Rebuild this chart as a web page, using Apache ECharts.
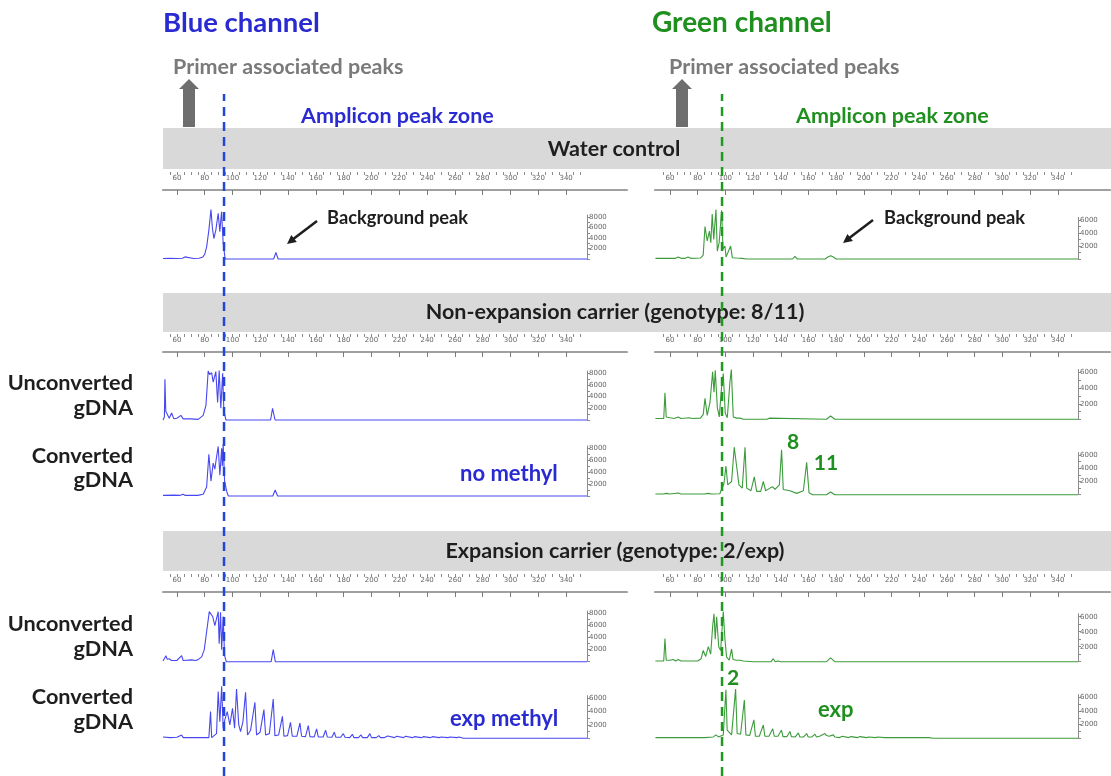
<!DOCTYPE html>
<html><head><meta charset="utf-8">
<script src="https://cdn.jsdelivr.net/npm/echarts@6/dist/echarts.min.js"></script>
<style>html,body{margin:0;padding:0;background:#fff}#c{width:1111px;height:776px}</style>
</head><body><div id="c"></div>
<script>
// ---------- tick labels ----------
const rulerMajorTicks = [60,80,100,120,140,160,180,200,220,240,260,280,300,320,340];
const rulerMinorTicks = [55,60,65,70,75,80,85,90,95,100,105,110,115,120,125,130,135,140,145,150,155,160,165,170,175,180,185,190,195,200,205,210,215,220,225,230,235,240,245,250,255,260,265,270,275,280,285,290,295,300,305,310,315,320,325,330,335,340,345,350];
const rfuLabels8000 = [2000,4000,6000,8000];
const rfuLabels6000 = [2000,4000,6000];
const rfuTicks = [0,1000,2000,3000,4000,5000,6000,7000,8000];

// ---------- channel cut-offs (bp) ----------
const blueCutoff = 93.9;
const greenCutoff = 97.6;

// ---------- traces: [size (bp), signal (RFU)] ----------
const blueWater = [[50,100],[55,150],[60,100],[64,150],[65.8,400],[67,150],[72,100],[76,150],[78.7,400],[80,900],[81.4,2300],[83,5500],[84.5,9400],[85.5,6000],[86.6,3900],[88,5500],[89.7,8700],[90.9,5200],[92.1,9000],[93.3,3000],[94.7,0],[100,0],[129.6,0],[131.2,1270],[132.8,0],[355,0]];
const greenWater = [[49.5,100],[60,100],[64,100],[66,300],[68,100],[71,100],[73,300],[75,100],[82,150],[84,600],[85.3,5000],[86.9,2800],[88.5,4300],[89.5,2500],[90.5,6900],[91.6,3000],[93.2,7600],[94.2,1200],[95.5,2500],[97.3,7500],[98.3,1500],[99.7,2000],[100.5,300],[101.4,300],[103.8,2000],[105,200],[108,150],[112,100],[115,0],[148.5,0],[150.2,400],[152,0],[172,0],[174,300],[176,500],[178,300],[180,0],[354.6,0]];

const blueNonExpUnconv = [[50,0],[51,500],[51.4,7000],[52,1500],[53,1200],[54.5,300],[56.2,1200],[57.8,200],[60,300],[62.9,800],[64.5,200],[70,200],[75.3,100],[78.9,800],[80.9,2500],[82.5,8400],[83.5,7800],[85,8100],[86.1,6500],[88,8300],[89.3,3000],[90.4,8500],[91.6,2000],[92.9,8000],[93.8,1500],[95.3,0],[127.4,0],[128.8,2000],[130.6,0],[355,0]];
const blueNonExpConv = [[50,100],[58,150],[62,100],[64.5,300],[66,100],[75,100],[78.9,300],[81.4,1500],[83,7000],[84.5,2500],[86.1,5500],[87.3,4500],[88.5,6500],[89.7,8300],[90.9,3500],[92.2,8000],[92.7,5000],[93.3,8700],[94.3,2500],[95.8,800],[97,0],[129,0],[130.7,1000],[132.4,0],[355,0]];
const greenNonExpUnconv = [[49.5,100],[55.5,100],[56.4,3400],[57.3,300],[60,200],[63,100],[66,300],[68,100],[74,200],[76,100],[82,150],[84,600],[85.3,2700],[86.9,500],[88.9,2200],[90.8,6100],[91.8,3500],[92.7,6300],[94.2,1500],[95.6,300],[97.3,4200],[98.5,5900],[99.9,800],[101.4,200],[103.3,4800],[104.3,6400],[105.7,300],[108,150],[110.5,150],[113,0],[130,0],[131.7,150],[133,0],[173,0],[176,430],[179,0],[354.6,0]];
const greenNonExpConv = [[49.5,100],[55,100],[57.6,200],[60,100],[66,250],[68,100],[85,100],[87.7,200],[90,100],[96,150],[97.3,300],[99,1700],[100.4,4350],[101.7,1500],[103,1300],[104.5,2000],[106.4,7200],[108.2,4200],[109.8,1500],[112.2,1000],[114.2,7200],[115.4,1000],[118.5,600],[120.9,2700],[122.6,500],[125.5,500],[127.4,2000],[129.1,600],[132.2,1000],[134.2,1200],[135.8,800],[139,1500],[140.6,6800],[141.8,800],[146.6,600],[151.5,200],[156.3,600],[158.7,4900],[160.4,300],[163,0],[173,0],[176,400],[179,0],[354.6,0]];

const blueExpUnconv = [[50,100],[52.1,1000],[53,400],[54.5,500],[56,200],[60,200],[63.4,1000],[64.5,200],[70.6,300],[73,200],[75,300],[77.8,800],[79.7,2000],[81.4,5000],[83.3,8300],[85.7,7500],[87.3,6000],[89.7,8300],[90.4,3000],[91.4,8200],[92.2,2000],[93.3,7500],[94.3,1000],[95.5,0],[127.8,0],[129.3,2000],[130.8,0],[355,0]];
const blueExpConv = [[50,200],[55,100],[60,150],[63.4,500],[64.5,100],[75,100],[83,100],[84.2,4000],[85,100],[88.5,700],[89.7,7000],[90.9,2500],[92.2,7800],[93.3,1500],[94.5,2800],[96.2,4000],[98.1,2000],[100,4500],[101.5,1500],[102.9,7400],[104.5,2000],[105.8,1000],[107.5,2500],[109.4,6900],[110.8,500],[113,1200],[116.1,5400],[117.3,500],[119.8,900],[122.6,4300],[123.8,500],[126.5,700],[129.3,5900],[130.5,400],[133.2,500],[135.9,3300],[137,300],[139.6,400],[141.7,2400],[143,300],[146.3,300],[148.5,2300],[149.7,300],[152.5,250],[154.5,1900],[155.7,250],[158.8,200],[160.5,1400],[161.7,200],[165.2,200],[167,1200],[168.2,200],[171.5,150],[173.2,900],[174.4,150],[177.8,150],[179.7,700],[180.9,150],[184.3,100],[186.2,600],[187.4,100],[190.6,100],[192.4,500],[193.6,100],[197,100],[198.8,700],[200,100],[203.4,100],[205.3,400],[206.5,100],[209,100],[211.7,350],[212.8,100],[216.5,100],[218.1,300],[219.2,100],[223,100],[224.5,300],[225.6,100],[229.3,100],[230.9,250],[232,100],[235.7,100],[237.3,250],[238.4,100],[242.2,100],[243.8,250],[244.9,100],[248.6,100],[250.2,200],[251.3,100],[255,100],[256.6,200],[257.7,100],[261.4,100],[263,200],[264.1,50],[266,0],[355,0]];
const greenExpUnconv = [[49.5,100],[55.5,100],[56.4,3100],[57.3,200],[60,200],[62.4,300],[64,100],[66,300],[68,100],[73,100],[80,100],[82.5,400],[84,1500],[85.8,700],[87.7,2000],[89.4,1000],[90.8,4700],[91.8,6400],[92.7,3000],[93.7,6000],[95.2,2000],[96.6,1500],[98.5,6700],[99.7,3000],[100.9,600],[102.8,200],[104.5,1700],[105.5,300],[108,200],[110.5,200],[113,100],[120,0],[133,0],[134.6,400],[136,0],[138,100],[140,0],[173,0],[176,500],[179,0],[354.6,0]];
const greenExpConv = [[49.5,100],[55,100],[60,100],[66,100],[70,100],[85,100],[91.3,200],[93.2,500],[95,200],[98.5,500],[100.4,7100],[101.3,1200],[102.1,1000],[104.5,500],[107.4,7200],[108.5,700],[111,600],[113.7,5600],[114.8,500],[117.5,400],[120.6,2700],[121.7,300],[124.5,300],[127.4,1950],[128.5,300],[131.5,300],[134.2,1400],[135.3,300],[138,300],[140.5,1200],[141.6,250],[144.5,250],[146.6,1000],[147.7,250],[150.5,200],[152.7,800],[153.8,200],[156.5,200],[158.7,700],[159.8,200],[162.5,200],[164.7,600],[165.8,200],[168,300],[171.9,700],[173,400],[175,300],[177.9,500],[179,200],[182.5,100],[184.5,300],[185.6,100],[189,100],[190.7,250],[191.8,100],[195.5,100],[197.2,250],[198.3,100],[202,100],[203.6,200],[204.7,100],[208.5,100],[210,200],[211.1,100],[215,100],[216.4,200],[217.5,100],[221.5,100],[222.9,150],[224,100],[228,100],[229.2,150],[230.3,100],[234.5,100],[235.6,150],[236.7,100],[241,100],[242.1,150],[243.2,100],[247,100],[248.4,100],[250,0],[354.6,0]];

// ---------- layout ----------
const FONT = 'Lato';
const BLUE_TRACE = '#4848f0', GREEN_TRACE = '#3c9c3c';
const BLUE_TEXT = '#2a2ad2', GREEN_TEXT = '#1f8f1f';
const panels = {
  left:  {left:163, traceWidth:424, rulerWidth:464, min:50,   traceMax:355,   rulerMax:383.8},
  right: {left:655, traceWidth:423, rulerWidth:455, min:49.2, traceMax:354.6, rulerMax:377.7}
};
const plain = v => String(v);

const grids = [], xAxes = [], yAxes = [], series = [];

function addRuler(p, top) {
  const gi = grids.length;
  grids.push({left:p.left, top:top, width:p.rulerWidth, height:18});
  const base = {gridIndex:gi, type:'value', min:p.min, max:p.rulerMax, splitLine:{show:false}};
  xAxes.push(Object.assign({}, base, {position:'top',
    axisLine:{show:true, lineStyle:{color:'#8a8a8a', width:1}},
    axisTick:{show:true, inside:true, length:5, customValues:rulerMajorTicks, lineStyle:{color:'#7a7a7a'}},
    axisLabel:{show:true, inside:true, customValues:rulerMajorTicks, formatter:plain, fontSize:7, color:'#666', margin:3, fontFamily:'DejaVu Sans'}}));
  xAxes.push(Object.assign({}, base, {position:'top',
    axisLine:{show:false},
    axisTick:{show:true, inside:true, length:3, customValues:rulerMinorTicks, lineStyle:{color:'#8a8a8a'}},
    axisLabel:{show:false}}));
  xAxes.push(Object.assign({}, base, {position:'bottom',
    axisLine:{show:true, lineStyle:{color:'#a0a0a0', width:2}},
    axisTick:{show:false}, axisLabel:{show:false}}));
  yAxes.push({gridIndex:gi, type:'value', min:0, max:1, show:false});
}

function addTrace(p, baseline, pxPer1000, yMax, labels, data, color) {
  const gi = grids.length;
  const h = yMax * pxPer1000 / 1000;
  grids.push({left:p.left, top:baseline - h, width:p.traceWidth, height:h});
  xAxes.push({gridIndex:gi, type:'value', min:p.min, max:p.traceMax, show:false});
  yAxes.push({gridIndex:gi, type:'value', min:0, max:yMax, position:'right',
    axisLine:{show:true, lineStyle:{color:'#8a8a8a', width:1}},
    axisTick:{show:true, length:3, customValues:rfuTicks.filter(v => v <= yMax), lineStyle:{color:'#8a8a8a'}},
    axisLabel:{show:true, customValues:labels, formatter:plain, fontSize:7, color:'#666', margin:2, fontFamily:'DejaVu Sans'},
    splitLine:{show:false}});
  series.push({type:'line', xAxisIndex:xAxes.length - 1, yAxisIndex:yAxes.length - 1,
    data:data, symbol:'none', showSymbol:false, clip:false, animation:false, z:3,
    lineStyle:{color:color, width:1.1}});
}

function addCutoff(p, cut, color) {
  const gi = grids.length;
  grids.push({left:p.left, top:94, width:p.traceWidth, bottom:0});
  xAxes.push({gridIndex:gi, type:'value', min:p.min, max:p.traceMax, show:false});
  yAxes.push({gridIndex:gi, type:'value', min:0, max:1, show:false});
  series.push({type:'line', xAxisIndex:xAxes.length - 1, yAxisIndex:yAxes.length - 1,
    data:[[cut,0],[cut,1]], symbol:'none', showSymbol:false, animation:false, z:10, silent:true,
    lineStyle:{color:color, width:2.5, type:[9,6]}});
}

// Water control
addRuler(panels.left, 172);
addRuler(panels.right, 172);
addTrace(panels.left, 259, 5.25, 8400, rfuLabels8000, blueWater, BLUE_TRACE);
addTrace(panels.right, 259, 6.5, 6400, rfuLabels6000, greenWater, GREEN_TRACE);
// Non-expansion carrier
addRuler(panels.left, 334);
addRuler(panels.right, 334);
addTrace(panels.left, 420, 5.83, 8400, rfuLabels8000, blueNonExpUnconv, BLUE_TRACE);
addTrace(panels.left, 496, 5.97, 8400, rfuLabels8000, blueNonExpConv, BLUE_TRACE);
addTrace(panels.right, 419.3, 7.77, 6400, rfuLabels6000, greenNonExpUnconv, GREEN_TRACE);
addTrace(panels.right, 494.7, 6.6, 6400, rfuLabels6000, greenNonExpConv, GREEN_TRACE);
// Expansion carrier
addRuler(panels.left, 574);
addRuler(panels.right, 574);
addTrace(panels.left, 661.7, 6.03, 8400, rfuLabels8000, blueExpUnconv, BLUE_TRACE);
addTrace(panels.left, 738.3, 6.67, 6400, rfuLabels6000, blueExpConv, BLUE_TRACE);
addTrace(panels.right, 661.7, 7.5, 6400, rfuLabels6000, greenExpUnconv, GREEN_TRACE);
addTrace(panels.right, 738.3, 6.83, 6400, rfuLabels6000, greenExpConv, GREEN_TRACE);
// cut-off dashed lines
addCutoff(panels.left, blueCutoff, '#2346d8');
addCutoff(panels.right, greenCutoff, '#1e9a1e');

function txt(text, x, y, size, color, align, weight) {
  return {type:'text', z:5, style:{text:text, x:x, y:y, fill:color,
    font:(weight || 'bold') + ' ' + size + 'px ' + FONT, textAlign:align || 'left', textVerticalAlign:'middle'}};
}
function band(y, h) {
  return {type:'rect', z:0, shape:{x:163, y:y, width:948, height:h}, style:{fill:'#d9d9d9'}};
}
function blockArrow(cx) {
  return {type:'polygon', z:1, shape:{points:[[cx-6,127],[cx-6,89],[cx-10,89],[cx,79],[cx+10,89],[cx+6,89],[cx+6,127]]}, style:{fill:'#6e6e6e'}};
}

const graphics = [
  band(128, 41), band(293, 39), band(531, 40),
  txt('Blue channel', 163, 23, 27.5, BLUE_TEXT),
  txt('Green channel', 652, 23, 28, GREEN_TEXT),
  txt('Primer associated peaks', 173, 67, 21.5, '#7a7a7a'),
  txt('Primer associated peaks', 669, 67, 21.5, '#7a7a7a'),
  blockArrow(189), blockArrow(682),
  txt('Amplicon peak zone', 301, 116, 21.5, BLUE_TEXT),
  txt('Amplicon peak zone', 796, 116, 21.5, GREEN_TEXT),
  txt('Water control', 614, 149, 21.5, '#1e1e1e', 'center'),
  txt('Non-expansion carrier (genotype: 8/11)', 615, 312, 21.5, '#1e1e1e', 'center'),
  txt('Expansion carrier (genotype: 2/exp)', 615, 551, 21.5, '#1e1e1e', 'center'),
  txt('Background peak', 327, 218, 18.3, '#1e1e1e'),
  txt('Background peak', 884, 218, 18.3, '#1e1e1e'),
  {type:'line', z:5, shape:{x1:317, y1:221, x2:292, y2:240}, style:{stroke:'#1e1e1e', lineWidth:2.5}},
  {type:'polygon', z:5, shape:{points:[[287,244],[296.8,241.9],[291.3,234.9]]}, style:{fill:'#1e1e1e'}},
  {type:'line', z:5, shape:{x1:873, y1:220, x2:848, y2:239}, style:{stroke:'#1e1e1e', lineWidth:2.5}},
  {type:'polygon', z:5, shape:{points:[[843,243],[852.9,241.1],[847.4,233.9]]}, style:{fill:'#1e1e1e'}},
  txt('Unconverted', 133, 383, 21.7, '#1e1e1e', 'right'),
  txt('gDNA', 133, 408, 21.7, '#1e1e1e', 'right'),
  txt('Converted', 133, 456, 21.7, '#1e1e1e', 'right'),
  txt('gDNA', 133, 480, 21.7, '#1e1e1e', 'right'),
  txt('Unconverted', 133, 624, 21.7, '#1e1e1e', 'right'),
  txt('gDNA', 133, 649, 21.7, '#1e1e1e', 'right'),
  txt('Converted', 133, 697, 21.7, '#1e1e1e', 'right'),
  txt('gDNA', 133, 722, 21.7, '#1e1e1e', 'right'),
  txt('no methyl', 460, 474, 22, BLUE_TEXT),
  txt('exp methyl', 450, 719, 22, BLUE_TEXT),
  txt('8', 793, 442, 21, GREEN_TEXT, 'center'),
  txt('11', 826, 463, 21, GREEN_TEXT, 'center'),
  txt('2', 733, 678, 21, GREEN_TEXT, 'center'),
  txt('exp', 818, 710, 22, GREEN_TEXT)
];

const chart = echarts.init(document.getElementById('c'), null, {renderer:'canvas'});
chart.setOption({
  animation:false,
  backgroundColor:'#ffffff',
  grid:grids, xAxis:xAxes, yAxis:yAxes, series:series,
  graphic:{elements:graphics}
});
</script></body></html>
